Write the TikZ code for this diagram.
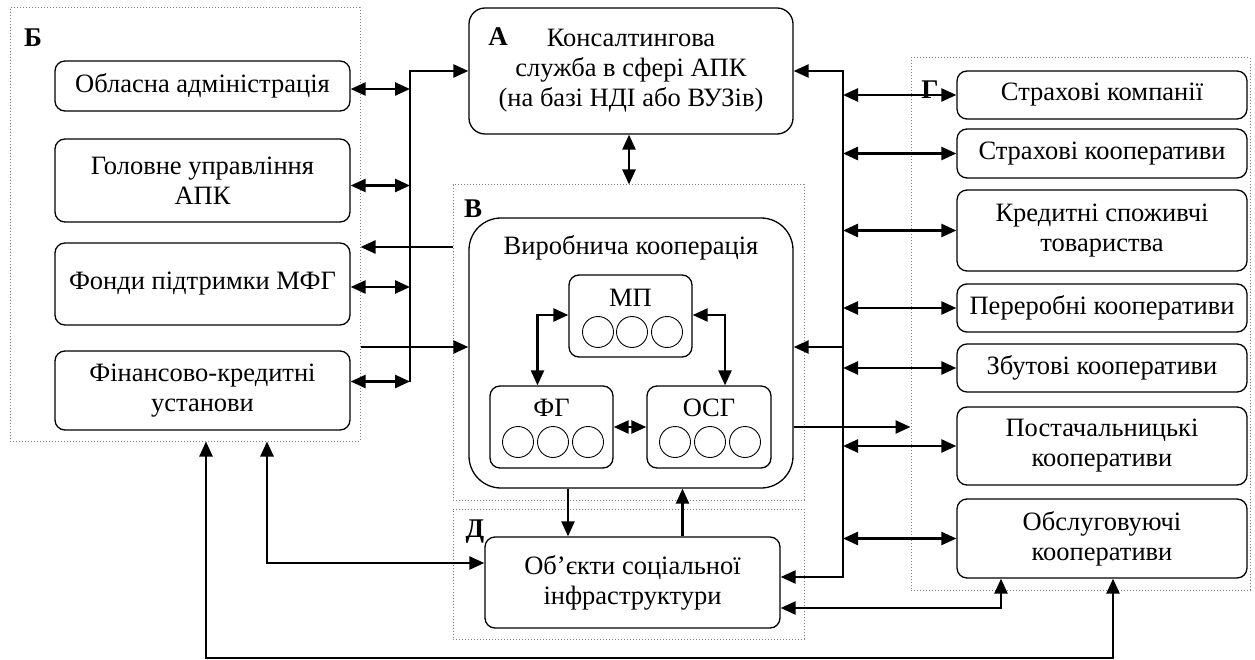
\documentclass[tikz,border=0pt]{standalone}
\usepackage{fontspec}
\setmainfont{Liberation Serif}
\usetikzlibrary{arrows.meta}

\tikzset{
    txt/.style={font=\fontsize{26.5}{30}\selectfont, align=center, inner sep=0pt},
    blk/.style={txt, draw, line width=1.3pt, rounded corners=10pt},
    grp/.style={draw=gray, dotted, line width=1pt, inner sep=0pt},
    tag/.style={font=\fontsize{27}{30}\selectfont\bfseries, inner sep=0pt},
    ring/.style={draw, circle, line width=0.9pt, minimum size=31pt, inner sep=0pt},
    arr/.style={line width=2.5pt, -{Triangle[length=15pt,width=13pt]}},
    biarr/.style={line width=2.5pt, {Triangle[length=15pt,width=13pt]}-{Triangle[length=15pt,width=13pt]}},
}

\begin{document}
\begin{tikzpicture}[x=1pt, y=-1pt]
    \useasboundingbox (0,0) rectangle (1255,660);

    % groups
    \node[grp, minimum width=350pt, minimum height=433pt] (grpB) at (185,224.5) {};
    \node[grp, minimum width=351pt, minimum height=315pt] (grpV) at (628.5,342.5) {};
    \node[grp, minimum width=351pt, minimum height=130pt] (grpD) at (628.5,574) {};
    \node[grp, minimum width=339pt, minimum height=532pt] (grpG) at (1080.5,324) {};
    \node[tag] (tB) at (33,38) {Б};
    \node[tag] (tV) at (473,209) {В};
    \node[tag] (tD) at (475,532) {Д};
    \node[tag] (tG) at (930,90) {Г};

    % left column
    \node[blk, minimum width=295pt, minimum height=50pt] (obl) at (202.5,86) {Обласна адміністрація};
    \node[blk, minimum width=295pt, minimum height=83pt] (hol) at (202.5,180.5) {Головне управління\\АПК};
    \node[blk, minimum width=295pt, minimum height=82pt] (fond) at (202.5,284) {Фонди підтримки МФГ};
    \node[blk, minimum width=295pt, minimum height=79pt] (fin) at (202.5,390.5) {Фінансово-кредитні\\установи};

    % centre
    \node[blk, rounded corners=16pt, minimum width=324pt, minimum height=126pt] (kons) at (631,71) {Консалтингова\\служба в сфері АПК\\(на базі НДІ або ВУЗів)};
    \node[tag] (tA) at (498,37) {А};
    \node[blk, rounded corners=32pt, minimum width=324pt, minimum height=270pt] (vyr) at (631,353) {};
    \node[txt] (vyrT) at (631,248) {Виробнича кооперація};
    \node[blk, minimum width=123pt, minimum height=82pt] (mp) at (630.5,316) {};
    \node[blk, minimum width=123pt, minimum height=82pt] (fg) at (551.5,427) {};
    \node[blk, minimum width=124pt, minimum height=82pt] (osg) at (709,427) {};
    \node[txt] (mpT) at (630.5,298) {МП};
    \node[txt] (fgT) at (551.5,408) {ФГ};
    \node[txt] (osgT) at (709,408) {ОСГ};
    \foreach \cx [count=\i] in {598,632,667} \node[ring] (mp\i) at (\cx,332) {};
    \foreach \cx [count=\i] in {518,553,588} \node[ring] (fg\i) at (\cx,442) {};
    \foreach \cx [count=\i] in {675,710,745} \node[ring] (osg\i) at (\cx,442) {};
    \node[blk, minimum width=295pt, minimum height=91pt] (obj) at (632.5,582.5) {Об’єкти соціальної\\інфраструктури};

    % right column
    \node[blk, minimum width=290pt, minimum height=48pt] (sk) at (1102,95) {Страхові компанії};
    \node[blk, minimum width=290pt, minimum height=49pt] (skoop) at (1102,153.5) {Страхові кооперативи};
    \node[blk, minimum width=290pt, minimum height=81pt] (kred) at (1102,230.5) {Кредитні споживчі\\товариства};
    \node[blk, minimum width=290pt, minimum height=48pt] (perer) at (1102,308) {Переробні кооперативи};
    \node[blk, minimum width=290pt, minimum height=48pt] (zbut) at (1102,368) {Збутові кооперативи};
    \node[blk, minimum width=290pt, minimum height=78pt] (post) at (1102,446) {Постачальницькі\\кооперативи};
    \node[blk, minimum width=290pt, minimum height=79pt] (obsl) at (1102,538.5) {Обслуговуючі\\кооперативи};

    \coordinate (busL) at (410,71);
    \coordinate (busR) at (843,71);
    \coordinate (busRb) at (843,577);
    \coordinate (cObs) at (1001,608);
    \coordinate (cFin) at (267,563);
    \coordinate (lowL) at (206,658);
    \coordinate (lowR) at (1113,658);

    % connectors
    \foreach \n/\s in {obl/-3, hol/-5, fond/-3, fin/9}
        \draw[biarr] ([yshift=\s pt]\n.east) -- ([yshift=\s pt]\n.east -| busL);
    \draw[arr] ([yshift=9pt]fin.east -| busL) -- (busL) -- (kons.west |- busL);
    \draw[biarr] (kons.east |- busR) -- (busR) -- (busRb) -- (obj.east |- busRb);
    \foreach \n in {sk, skoop, kred, perer, zbut, post, obsl}
        \draw[biarr] (\n.west -| busR) -- (\n.west);
    \draw[arr] ([yshift=6pt]vyr.east -| busR) -- ([yshift=6pt]vyr.east);
    \draw[arr] ([yshift=6pt]vyr.west -| grpB.east) -- ([yshift=6pt]vyr.west);
    \draw[arr] ([yshift=106pt]vyr.west -| grpV.west) -- ([yshift=106pt]vyr.west -| grpB.east);
    \draw[arr] ([yshift=-74pt]vyr.east) -- ([yshift=-74pt]vyr.east -| grpG.west);
    \draw[biarr] ([xshift=-2pt]kons.south) -- ([xshift=-2pt]kons.south |- grpV.north);
    \draw[biarr] ([yshift=1pt]mp.west) -| ([xshift=-14pt]fg.north);
    \draw[biarr] ([yshift=1pt]mp.east) -| ([xshift=16pt]osg.north);
    \draw[biarr] (fg.east) -- (osg.west);
    \draw[arr] ([xshift=-63pt]vyr.south) -- ([xshift=-63pt]vyr.south |- obj.north);
    \draw[arr] ([xshift=50pt]obj.north) -- ([xshift=50pt]obj.north |- vyr.south);
    \draw[biarr] (obj.east |- cObs) -- (cObs) -- (cObs |- obsl.south);
    \draw[biarr] (lowL |- grpB.south) -- (lowL) -- (lowR) -- (lowR |- obsl.south);
    \draw[biarr] (cFin |- grpB.south) -- (cFin) -- (cFin -| obj.west);
\end{tikzpicture}
\end{document}
